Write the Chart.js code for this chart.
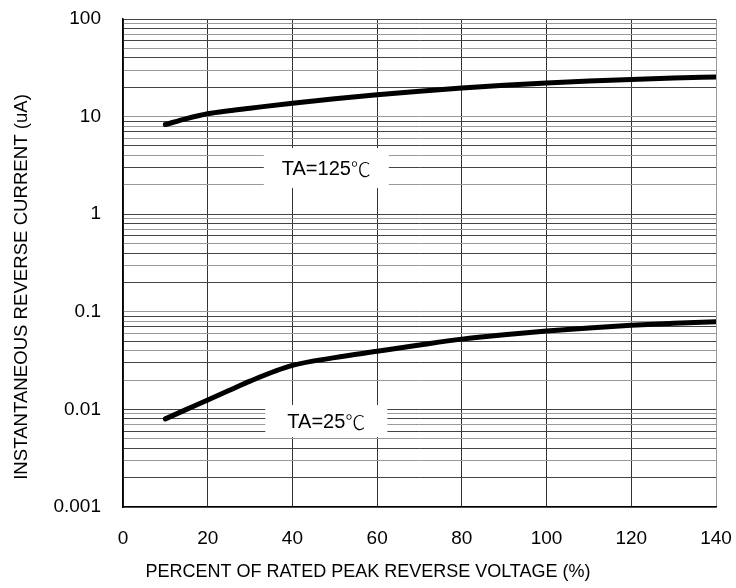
<!DOCTYPE html>
<html>
<head>
<meta charset="utf-8">
<script src="https://cdn.jsdelivr.net/npm/chart.js@4.4.1/dist/chart.umd.min.js"></script>
<style>
  html, body { margin: 0; padding: 0; background: #fff; }
  #wrap { width: 736px; height: 588px; position: relative; }
</style>
</head>
<body>
<div id="wrap"><canvas id="chart"></canvas></div>
<script>
// Values
const percentVoltage = [10, 15, 20, 25, 30, 40, 50, 60, 70, 80, 90, 100, 110, 120, 130, 140];
const current125 = [8.3, 9.55, 10.7, 11.5, 12.2, 13.7, 15.2, 16.7, 18.2, 19.6, 20.9, 22.1, 23.1, 24.0, 24.8, 25.5];
const current25 = [0.008, 0.01, 0.0125, 0.0156, 0.0195, 0.0282, 0.0339, 0.0394, 0.0457, 0.0525, 0.0582, 0.0635, 0.0684, 0.0728, 0.0762, 0.0792];

const yDecades = [0.001, 0.01, 0.1, 1, 10, 100];
const yTickLabels = ['0.001', '0.01', '0.1', '1', '10', '100'];
const yMinorSteps = [1, 2, 3, 4, 5, 6, 7, 8, 9];

const curveLabels = ['TA=125', 'TA=25'];
const DEG_C = '\u2103';
const curveLabelX = [48, 48];
const curveLabelY = [2.97, 0.0076];

const X_TITLE = 'PERCENT OF RATED PEAK REVERSE VOLTAGE (%)';
const Y_TITLE = 'INSTANTANEOUS REVERSE CURRENT (uA)';

const FONT = "Arial, 'Liberation Sans', Helvetica, sans-serif";
const CJK_FONT = "'Noto Sans CJK SC', 'Noto Sans CJK JP', sans-serif";

// all grid positions on the log axis: 1..9 x each decade, up to the top
function buildYTicks() {
  const ticks = [];
  yDecades.forEach((d, i) => {
    if (i == yDecades.length - 1) {
      ticks.push({value: d});
      return;
    }
    yMinorSteps.forEach((m) => ticks.push({value: +(d * m).toPrecision(3)}));
  });
  return ticks;
}

function decadeLabel(v) {
  const idx = yDecades.findIndex((d) => Math.abs(d - v) / d < 1e-6);
  return idx >= 0 ? yTickLabels[idx] : '';
}

// curve labels and axis titles
const overlayPlugin = {
  id: 'overlay',
  afterDatasetsDraw(chart) {
    const ctx = chart.ctx;
    const xs = chart.scales.x;
    const ys = chart.scales.y;
    const boxes = [[125, 40], [122, 32]];
    ctx.save();
    ctx.textBaseline = 'middle';
    ctx.textAlign = 'left';
    curveLabels.forEach((txt, i) => {
      const cx = xs.getPixelForValue(curveLabelX[i]);
      const cy = ys.getPixelForValue(curveLabelY[i]);
      const [w, h] = boxes[i];
      ctx.fillStyle = '#fff';
      ctx.fillRect(cx - w / 2, cy - h / 2, w, h);
      ctx.fillStyle = '#000';
      ctx.font = '20px ' + FONT;
      const w1 = ctx.measureText(txt).width;
      ctx.font = '300 20px ' + CJK_FONT;
      const w2 = ctx.measureText(DEG_C).width;
      const x0 = cx - (w1 + w2) / 2;
      ctx.font = '20px ' + FONT;
      ctx.fillText(txt, x0, cy + 1);
      ctx.font = '300 20px ' + CJK_FONT;
      ctx.fillText(DEG_C, x0 + w1, cy + 1);
    });

    ctx.fillStyle = '#000';
    ctx.textAlign = 'center';
    ctx.font = '18px ' + FONT;
    ctx.fillText(X_TITLE, 368, 572);

    ctx.font = '18.6px ' + FONT;
    ctx.translate(22, 287);
    ctx.rotate(-Math.PI / 2);
    ctx.fillText(Y_TITLE, 0, 0);
    ctx.restore();
  },
};

const ctx = document.getElementById('chart').getContext('2d');
new Chart(ctx, {
  type: 'line',
  data: {
    datasets: [
      {
        label: curveLabels[0],
        data: percentVoltage.map((x, i) => ({x: x, y: current125[i]})),
        borderColor: '#000',
        borderWidth: 5,
        pointRadius: 0,
        cubicInterpolationMode: 'monotone',
        borderCapStyle: 'round',
      },
      {
        label: curveLabels[1],
        data: percentVoltage.map((x, i) => ({x: x, y: current25[i]})),
        borderColor: '#000',
        borderWidth: 5,
        pointRadius: 0,
        cubicInterpolationMode: 'monotone',
        borderCapStyle: 'round',
      },
    ],
  },
  options: {
    responsive: true,
    maintainAspectRatio: false,
    animation: false,
    layout: {padding: {top: 19, right: 20, left: 0, bottom: 0}},
    plugins: {
      legend: {display: false},
      title: {display: false},
      tooltip: {enabled: false},
    },
    scales: {
      x: {
        type: 'linear',
        min: 0,
        max: 140,
        afterFit: (scale) => {
          scale.height = 81;
          scale.paddingLeft = 0;
          scale.paddingRight = 0;
        },
        ticks: {
          stepSize: 20,
          padding: 20,
          color: '#000',
          font: {family: FONT, size: 19},
        },
        grid: {
          drawTicks: false,
          color: (c) => (c.index == 7 ? '#999' : '#333'),
          lineWidth: 1,
        },
        border: {color: '#000', width: 1.5},
      },
      y: {
        type: 'logarithmic',
        min: 0.001,
        max: 100,
        afterFit: (scale) => {
          scale.width = 123;
          scale.paddingTop = 0;
          scale.paddingBottom = 0;
        },
        afterBuildTicks: (scale) => {
          scale.ticks = buildYTicks();
        },
        ticks: {
          autoSkip: false,
          padding: 22,
          color: '#000',
          font: {family: FONT, size: 19},
          callback: (v) => decadeLabel(v),
        },
        grid: {
          drawTicks: false,
          color: (c) => (c.index % 2 == 0 ? '#999' : '#444'),
          lineWidth: 1,
        },
        border: {color: '#000', width: 1.5},
      },
    },
  },
  plugins: [overlayPlugin],
});
</script>
</body>
</html>
